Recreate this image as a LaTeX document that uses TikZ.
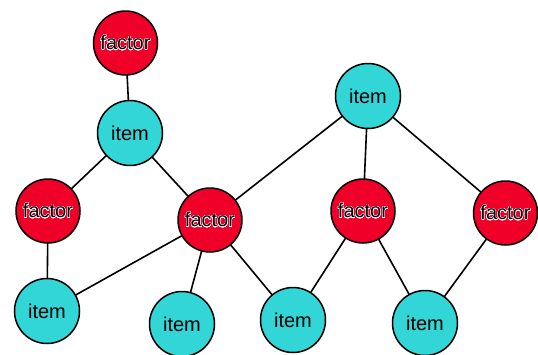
\documentclass[tikz,border=0pt]{standalone}
\usepackage{fontspec}
\setmainfont{Liberation Sans}
\usepackage{contour}
\contourlength{0.35pt}
\definecolor{factorred}{RGB}{240,0,40}
\definecolor{itemcyan}{RGB}{50,214,214}
\tikzset{
  factor/.style={circle, draw=black, line width=1.5pt, fill=factorred, minimum size=64pt, inner sep=0pt, font=\fontsize{20}{22}\selectfont},
  item/.style={circle, draw=black, line width=1.5pt, fill=itemcyan, minimum size=65pt, inner sep=0pt, font=\fontsize{20}{22}\selectfont},
  link/.style={line width=1.6pt}
}
\begin{document}
\begin{tikzpicture}[x=1pt, y=-1pt]
	\useasboundingbox (0,0) rectangle (538,354);
	% links go underneath
	\coordinate (f1) at (125.5,43);
	\coordinate (i1) at (130,133);
	\coordinate (f2) at (48,211);
	\coordinate (f3) at (210,220);
	\coordinate (i2) at (368,96);
	\coordinate (f4) at (363,211);
	\coordinate (f5) at (505.5,213);
	\coordinate (i3) at (47,311);
	\coordinate (i4) at (182,324);
	\coordinate (i5) at (293,320);
	\coordinate (i6) at (425,323);
	\draw[link] (f1)--(i1) (i1)--(f2) (i1)--(f3) (f2)--(i3) (f3)--(i3);
	\draw[link] (f3)--(i4) (f3)--(i5) (f3)--(i2) (i2)--(f4) (i2)--(f5);
	\draw[link] (f4)--(i5) (f4)--(i6) (f5)--(i6);
	% factors
	\node[factor] (factor1) at (f1) {\contour{white}{factor}};
	\node[factor] (factor2) at (f2) {\contour{white}{factor}};
	\node[factor] (factor3) at (f3) {\contour{white}{factor}};
	\node[factor] (factor4) at (f4) {\contour{white}{factor}};
	\node[factor] (factor5) at (f5) {\contour{white}{factor}};
	% items
	\node[item] (item1) at (i1) {item};
	\node[item] (item2) at (i2) {item};
	\node[item] (item3) at (i3) {item};
	\node[item] (item4) at (i4) {item};
	\node[item] (item5) at (i5) {item};
	\node[item] (item6) at (i6) {item};
\end{tikzpicture}
\end{document}
